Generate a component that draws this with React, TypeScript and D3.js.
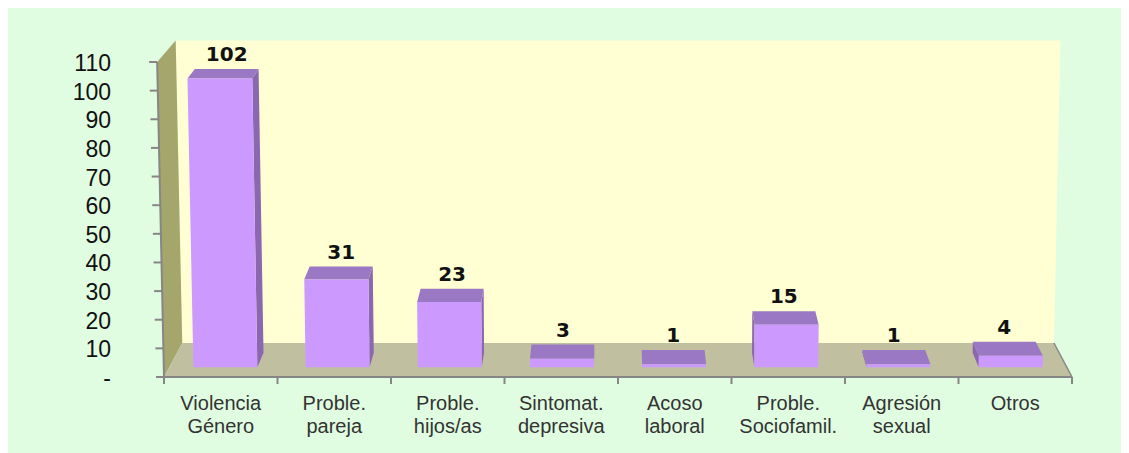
import React from "react";
import * as d3 from "d3";

const categories: string[][] = [
  ["Violencia", "Género"],
  ["Proble.", "pareja"],
  ["Proble.", "hijos/as"],
  ["Sintomat.", "depresiva"],
  ["Acoso", "laboral"],
  ["Proble.", "Sociofamil."],
  ["Agresión", "sexual"],
  ["Otros"],
];
const values: number[] = [102, 31, 23, 3, 1, 15, 1, 4];
const yTicks: number[] = [0, 10, 20, 30, 40, 50, 60, 70, 80, 90, 100, 110];
const yTickLabels: string[] = ["-", "10", "20", "30", "40", "50", "60", "70", "80", "90", "100", "110"];

const W = 1121;
const H = 445;

// perspective parameters (page coordinates)
const CX = 620;
const WARP = 0.0000476;
const K = 0.04;
const VX = 620;
const VY = -473;
const T1 = 0.29;
const T2 = 0.71;

const COLORS = {
  bg: "#E0FDE1",
  back: "#FFFFD3",
  left: "#A5A66B",
  floor: "#C0C0A0",
  axis: "#868686",
  front: "#CC99FF",
  top: "#9B78C3",
  side: "#8A67AE",
  text: "#222222",
};

export default function App() {
  const x0 = 164;
  const x1 = 1072;
  const yBase = 377;
  const yTop = 62;

  const idx = d3.range(categories.length);
  const x = d3
    .scaleBand<number>()
    .domain(idx)
    .range([x0, x1])
    .paddingInner(0.43)
    .paddingOuter(0.215);
  const xEdge = d3.scaleLinear().domain([0, categories.length]).range([x0, x1]);
  const y = d3.scaleLinear().domain([0, 110]).range([yBase, yTop]);

  const P = (px: number, py: number, t: number): [number, number] => {
    const wx = CX + (px - CX) * (1 + WARP * (yBase - py));
    const wy = py;
    return [wx + t * K * (VX - wx), wy + t * K * (VY - wy)];
  };
  const poly = (pts: [number, number][]) => pts.map((p) => p.join(",")).join(" ");

  const bw = x.bandwidth();
  const y0 = y(0);

  return (
    <svg width={W} height={H} style={{ display: "block" }}>
      <g transform="translate(-8,-8)">
        <rect x={8} y={8} width={W} height={H} fill={COLORS.bg} />
        {/* back wall */}
        <polygon
          points={poly([P(x0, yBase, 1), P(x1, yBase, 1), P(x1, yTop, 1), P(x0, yTop, 1)])}
          fill={COLORS.back}
        />
        {/* left wall */}
        <polygon
          points={poly([P(x0, yTop, 0), P(x0, yTop, 1), P(x0, yBase, 1), P(x0, yBase, 0)])}
          fill={COLORS.left}
        />
        {/* floor */}
        <polygon
          points={poly([P(x0, yBase, 0), P(x1, yBase, 0), P(x1, yBase, 1), P(x0, yBase, 1)])}
          fill={COLORS.floor}
        />
        <line
          x1={P(x1, yBase, 0)[0]}
          y1={P(x1, yBase, 0)[1]}
          x2={P(x1, yBase, 1)[0]}
          y2={P(x1, yBase, 1)[1]}
          stroke={COLORS.axis}
          strokeWidth={1.5}
        />
        {/* bars */}
        {values.map((v, i) => {
          const xl = x(i)!;
          const xr = xl + bw;
          const yt = y(v);
          const front = [P(xl, y0, T1), P(xr, y0, T1), P(xr, yt, T1), P(xl, yt, T1)];
          const top = [P(xl, yt, T1), P(xr, yt, T1), P(xr, yt, T2), P(xl, yt, T2)];
          const rightVisible = P(xr, y0, T1)[0] < VX;
          const sx = rightVisible ? xr : xl;
          const side = [P(sx, y0, T1), P(sx, yt, T1), P(sx, yt, T2), P(sx, y0, T2)];
          const bl = P(xl, yt, T2);
          const br = P(xr, yt, T2);
          return (
            <g key={i}>
              <polygon points={poly(side)} fill={COLORS.side} />
              <polygon points={poly(top)} fill={COLORS.top} />
              <polygon points={poly(front)} fill={COLORS.front} />
              <text
                x={(bl[0] + br[0]) / 2}
                y={Math.min(bl[1], br[1]) - 8}
                textAnchor="middle"
                fontFamily="'DejaVu Sans', sans-serif"
                fontWeight="bold"
                fontSize={20}
                fill="#111"
              >
                {v}
              </text>
            </g>
          );
        })}
        {/* y axis */}
        <line
          x1={P(x0, yTop, 0)[0]}
          y1={yTop}
          x2={P(x0, yBase, 0)[0]}
          y2={yBase}
          stroke={COLORS.axis}
          strokeWidth={2}
        />
        {yTicks.map((t, i) => {
          const p = P(x0, y(t), 0);
          return (
            <g key={t}>
              <line x1={p[0] - 8} y1={p[1]} x2={p[0]} y2={p[1]} stroke={COLORS.axis} strokeWidth={2} />
              <text
                x={111}
                y={p[1] + 9}
                textAnchor="end"
                fontFamily="'Liberation Sans', Arial, sans-serif"
                fontSize={23}
                fill="#111"
              >
                {yTickLabels[i]}
              </text>
            </g>
          );
        })}
        {/* x axis */}
        <line x1={x0} y1={yBase} x2={x1} y2={yBase} stroke={COLORS.axis} strokeWidth={2} />
        {d3.range(categories.length + 1).map((i) => (
          <line
            key={i}
            x1={xEdge(i)}
            y1={yBase}
            x2={xEdge(i)}
            y2={yBase + 7}
            stroke={COLORS.axis}
            strokeWidth={2}
          />
        ))}
        {categories.map((lines, i) => (
          <text
            key={i}
            x={x(i)! + bw / 2}
            y={410}
            textAnchor="middle"
            fontFamily="'Liberation Sans', Arial, sans-serif"
            fontSize={20}
            fill="#333"
          >
            {lines.map((l, j) => (
              <tspan key={j} x={x(i)! + bw / 2} dy={j === 0 ? 0 : 23}>
                {l}
              </tspan>
            ))}
          </text>
        ))}
      </g>
    </svg>
  );
}
